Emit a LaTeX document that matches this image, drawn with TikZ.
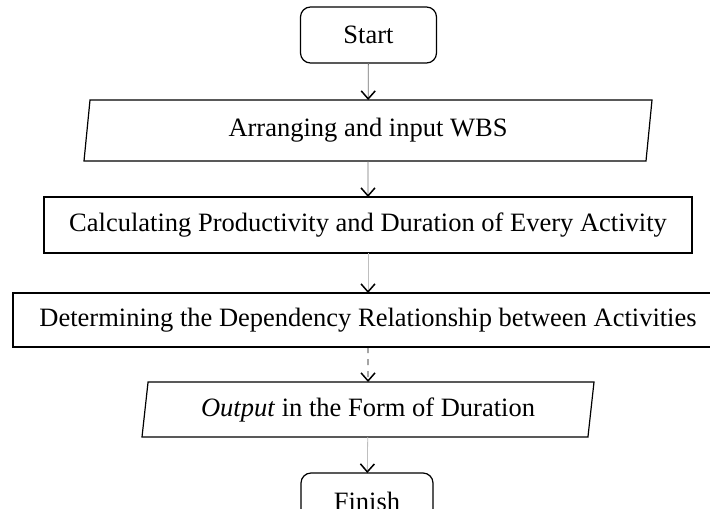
\documentclass[tikz,border=0pt]{standalone}
\usepackage{fontspec}
\setmainfont{Liberation Serif}
\usetikzlibrary{shapes.geometric,arrows.meta}

\tikzset{
  flowbox/.style={draw=black, line width=0.6pt, inner sep=0pt, outer sep=0pt,
    font=\fontsize{13.25}{15}\selectfont},
  terminal/.style={flowbox, rounded corners=5pt, minimum width=68pt, minimum height=28pt},
  process/.style={flowbox, rectangle, minimum height=28pt},
  io/.style={flowbox, trapezium, trapezium left angle=76, trapezium right angle=104,
    trapezium stretches body, minimum height=28pt},
  flowarrow/.style={draw=black!55, line width=0.4pt,
    -{Straight Barb[length=4pt,width=7pt,color=black,line width=0.75pt]}}
}

\begin{document}
\begin{tikzpicture}[x=0.5pt,y=-0.5pt]
  \fill[white] (0,0) rectangle (710,508);
  \clip (0,0) rectangle (710,508);

  % nodes
  \node[terminal] (start) at (368.5,35) {Start};
  \node[io, minimum width=284pt, minimum height=30.5pt] (wbs) at (368,130.5) {Arranging and input WBS};
  \node[process, minimum width=324pt] (calc) at (368,225) {Calculating Productivity and Duration of Every Activity};
  \node[process, minimum width=355pt, minimum height=27pt] (dep) at (368,320) {Determining the Dependency Relationship between Activities};
  \node[io, minimum width=226pt, minimum height=27.5pt] (out) at (368,409.5) {\textit{Output} in the Form of Duration};
  \node[terminal, minimum width=66pt] (finish) at (367,501) {Finish};

  % connectors
  \draw[flowarrow] (start) -- (wbs);
  \draw[flowarrow] (wbs) -- (calc);
  \draw[flowarrow, draw=black!25] (calc) -- (dep);
  \draw[flowarrow, draw=black, dashed] (dep) -- (out);
  \draw[flowarrow, draw=black!25] (out) -- (finish);
\end{tikzpicture}
\end{document}
